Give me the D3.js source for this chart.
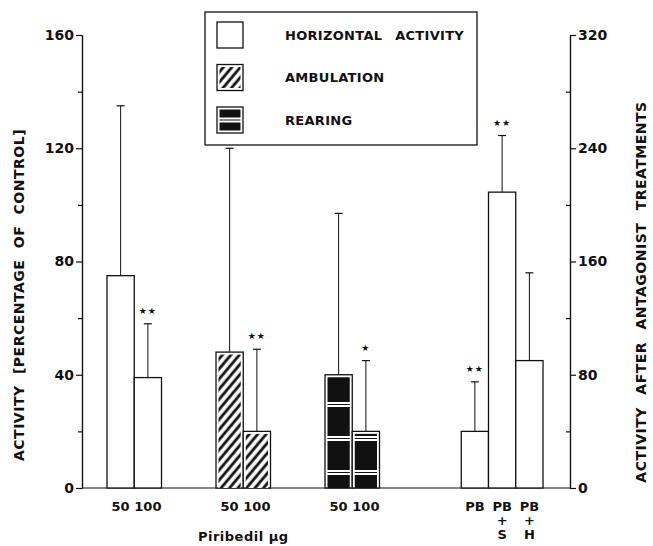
<!DOCTYPE html>
<html>
<head>
<meta charset="utf-8">
<script src="https://cdn.jsdelivr.net/npm/d3@7"></script>
<style>
  body { margin: 0; background: #fff; }
  svg { display: block; }
  text { font-family: "DejaVu Sans", sans-serif; font-weight: bold; fill: #111; }
  .axis path, .axis line { stroke: #111; stroke-width: 1.2; }
  .axis text { font-family: "DejaVu Sans", sans-serif; font-weight: bold; font-size: 14px; fill: #111; }
</style>
</head>
<body>
<div id="chart"></div>
<script>
// bars, left to right
var barLabels = ['50', '100', '50', '100', '50', '100', 'PB', 'PB+S', 'PB+H'];
var barGroups = ['g1', 'g1', 'g2', 'g2', 'g3', 'g3', 'g4', 'g4', 'g4'];
var barKinds  = ['horizontal', 'horizontal', 'ambulation', 'ambulation', 'rearing', 'rearing',
                 'horizontal', 'horizontal', 'horizontal'];
var barAxis   = ['left', 'left', 'left', 'left', 'left', 'left', 'right', 'right', 'right'];
var means     = [75, 39, 48, 20, 40, 20, 40, 209, 90];
var sems      = [60, 19, 72, 29, 57, 25, 35, 40, 62];
var stars     = ['', '**', '', '**', '', '*', '**', '**', ''];

var leftTicks  = [0, 40, 80, 120, 160];
var leftMinor  = [20, 60, 100, 140];
var rightTicks = [0, 80, 160, 240, 320];
var rightMinor = [40, 120, 200, 280];

var legendKinds  = ['horizontal', 'ambulation', 'rearing'];
var legendLabels = ['HORIZONTAL ACTIVITY', 'AMBULATION', 'REARING'];

var width = 653, height = 546;
var x0 = 82, x1 = 570, yTop = 35, yBase = 488;

var svg = d3.select('#chart').append('svg')
    .attr('width', width)
    .attr('height', height);

var defs = svg.append('defs');

// diagonal hatch for ambulation
var hatch = defs.append('pattern')
    .attr('id', 'hatch')
    .attr('patternUnits', 'userSpaceOnUse')
    .attr('width', 6.5).attr('height', 6.5)
    .attr('patternTransform', 'rotate(40)');
hatch.append('rect').attr('width', 6.5).attr('height', 6.5).attr('fill', '#fff');
hatch.append('line').attr('x1', 2).attr('x2', 2).attr('y1', 0).attr('y2', 6.5)
    .attr('stroke', '#111').attr('stroke-width', 2.8);

// black with white ladder stripes for rearing
function rearingPattern(id, offset) {
  var p = defs.append('pattern')
      .attr('id', id)
      .attr('patternUnits', 'userSpaceOnUse')
      .attr('width', 40).attr('height', 34)
      .attr('y', offset);
  p.append('rect').attr('width', 40).attr('height', 34).attr('fill', '#111');
  p.append('rect').attr('y', 0).attr('width', 40).attr('height', 5).attr('fill', '#fff');
  p.append('line').attr('x1', 0).attr('x2', 40).attr('y1', 2.5).attr('y2', 2.5)
      .attr('stroke', '#111').attr('stroke-width', 1.2);
}
rearingPattern('rearing', 402 - 34 * 11);
rearingPattern('rearingLegend', -2.5);

var fills = { horizontal: '#fff', ambulation: 'url(#hatch)', rearing: 'url(#rearing)' };

// slots: bars plus empty spacers between groups
var gaps = { g1: 0, g2: 2, g3: 2, g4: 3 };
var slots = [];
var prev = null;
barGroups.forEach(function(g, i) {
  if (g !== prev && prev !== null) {
    for (var k = 0; k < gaps[g]; k++) slots.push('gap-' + g + '-' + k);
  }
  slots.push('bar-' + i);
  prev = g;
});

var x = d3.scaleBand()
    .domain(slots)
    .range([107, 543])
    .paddingInner(0);

var yLeft = d3.scaleLinear().domain([0, 160]).range([yBase, yTop]);
var yRight = d3.scaleLinear().domain([0, 320]).range([yBase, yTop]);

var bars = barLabels.map(function(label, i) {
  return {
    label: label, kind: barKinds[i], mean: means[i], sem: sems[i], star: stars[i],
    y: barAxis[i] === 'left' ? yLeft : yRight, key: 'bar-' + i
  };
});

// axes
svg.append('g')
    .attr('class', 'axis')
    .attr('transform', 'translate(' + x0 + ',0)')
    .call(d3.axisLeft(yLeft).tickValues(leftTicks).tickSize(6).tickSizeOuter(0).tickPadding(2));
svg.append('g')
    .attr('class', 'axis')
    .attr('transform', 'translate(' + x0 + ',0)')
    .call(d3.axisLeft(yLeft).tickValues(leftMinor).tickSize(4).tickFormat('').tickSizeOuter(0));

svg.append('g')
    .attr('class', 'axis')
    .attr('transform', 'translate(' + x1 + ',0)')
    .call(d3.axisRight(yRight).tickValues(rightTicks).tickSize(6).tickSizeOuter(0).tickPadding(2));
svg.append('g')
    .attr('class', 'axis')
    .attr('transform', 'translate(' + x1 + ',0)')
    .call(d3.axisLeft(yRight).tickValues(rightMinor).tickSize(4).tickFormat('').tickSizeOuter(0));

svg.append('line')
    .attr('x1', x0).attr('x2', x1)
    .attr('y1', yBase).attr('y2', yBase)
    .attr('stroke', '#111').attr('stroke-width', 1.2);

// error bars (upper only)
var err = svg.append('g').attr('class', 'errors');
err.selectAll('line.stem')
    .data(bars).enter().append('line')
    .attr('class', 'stem')
    .attr('x1', function(d) { return x(d.key) + x.bandwidth() / 2; })
    .attr('x2', function(d) { return x(d.key) + x.bandwidth() / 2; })
    .attr('y1', function(d) { return d.y(d.mean); })
    .attr('y2', function(d) { return d.y(d.mean + d.sem); })
    .attr('stroke', '#111').attr('stroke-width', 1);
err.selectAll('line.cap')
    .data(bars).enter().append('line')
    .attr('class', 'cap')
    .attr('x1', function(d) { return x(d.key) + x.bandwidth() / 2 - 4; })
    .attr('x2', function(d) { return x(d.key) + x.bandwidth() / 2 + 4; })
    .attr('y1', function(d) { return d.y(d.mean + d.sem); })
    .attr('y2', function(d) { return d.y(d.mean + d.sem); })
    .attr('stroke', '#111').attr('stroke-width', 1.2);

// bars: outline, then inset fill
var g = svg.append('g').attr('class', 'bars');
g.selectAll('rect.outline')
    .data(bars).enter().append('rect')
    .attr('class', 'outline')
    .attr('x', function(d) { return x(d.key); })
    .attr('y', function(d) { return d.y(d.mean); })
    .attr('width', x.bandwidth())
    .attr('height', function(d) { return yBase - d.y(d.mean); })
    .attr('fill', '#fff')
    .attr('stroke', '#111').attr('stroke-width', 1.3);
g.selectAll('rect.inner')
    .data(bars.filter(function(d) { return d.kind !== 'horizontal'; }))
    .enter().append('rect')
    .attr('class', 'inner')
    .attr('x', function(d) { return x(d.key) + 2.5; })
    .attr('y', function(d) { return d.y(d.mean) + 2.5; })
    .attr('width', x.bandwidth() - 5)
    .attr('height', function(d) { return yBase - d.y(d.mean) - 2.5; })
    .attr('fill', function(d) { return fills[d.kind]; });

// significance stars
svg.selectAll('text.star')
    .data(bars.filter(function(d) { return d.star; }))
    .enter().append('text')
    .attr('class', 'star')
    .attr('x', function(d) { return x(d.key) + x.bandwidth() / 2; })
    .attr('y', function(d) { return d.y(d.mean + d.sem) - 10; })
    .attr('text-anchor', 'middle')
    .style('font-size', '9px')
    .style('letter-spacing', '1px')
    .text(function(d) { return d.star.replace(/\*/g, '\u2605'); });

// category labels under bars
var cat = svg.selectAll('text.cat')
    .data(bars).enter().append('text')
    .attr('class', 'cat')
    .attr('text-anchor', 'middle')
    .style('font-size', '13px')
    .attr('y', 511);
cat.selectAll('tspan')
    .data(function(d) {
      var parts = d.label.split('+');
      var lines = parts.length > 1 ? [parts[0], '+', parts[1]] : parts;
      var cx = x(d.key) + x.bandwidth() / 2;
      return lines.map(function(t) { return { t: t, cx: cx }; });
    })
    .enter().append('tspan')
    .attr('x', function(d) { return d.cx; })
    .attr('dy', function(d, i) { return i === 0 ? 0 : 14; })
    .text(function(d) { return d.t; });

svg.append('text')
    .attr('x', x('bar-2') + x.bandwidth())
    .attr('y', 541)
    .attr('text-anchor', 'middle')
    .style('font-size', '13px')
    .style('letter-spacing', '0.5px')
    .text('Piribedil \u00b5g');

// axis titles
svg.append('text')
    .attr('transform', 'translate(24,295) rotate(-90)')
    .attr('text-anchor', 'middle')
    .style('font-size', '14px')
    .style('letter-spacing', '0.5px')
    .style('word-spacing', '6px')
    .text('ACTIVITY [PERCENTAGE OF CONTROL]');
svg.append('text')
    .attr('transform', 'translate(646,292) rotate(-90)')
    .attr('text-anchor', 'middle')
    .style('font-size', '14px')
    .style('letter-spacing', '0.5px')
    .style('word-spacing', '7px')
    .text('ACTIVITY AFTER ANTAGONIST TREATMENTS');

// legend
var legend = svg.append('g').attr('class', 'legend');
legend.append('rect')
    .attr('x', 205).attr('y', 12)
    .attr('width', 272).attr('height', 133)
    .attr('fill', '#fff')
    .attr('stroke', '#111').attr('stroke-width', 1.3);

var legendFills = { horizontal: '#fff', ambulation: 'url(#hatch)', rearing: 'url(#rearingLegend)' };
var ly = d3.scalePoint().domain(legendKinds).range([35, 120]);

var item = legend.selectAll('g.item')
    .data(legendKinds).enter().append('g')
    .attr('class', 'item')
    .attr('transform', function(d) { return 'translate(0,' + ly(d) + ')'; });
item.append('rect')
    .attr('x', 217).attr('y', -13)
    .attr('width', 26).attr('height', 26)
    .attr('fill', '#fff')
    .attr('stroke', '#111').attr('stroke-width', 1.3);
item.filter(function(d) { return d !== 'horizontal'; })
    .append('rect')
    .attr('x', 219.5).attr('y', -10.5)
    .attr('width', 21).attr('height', 21)
    .attr('fill', function(d) { return legendFills[d]; });
item.append('text')
    .attr('x', 285).attr('y', 4.5)
    .style('font-size', '13px')
    .style('letter-spacing', '0.3px')
    .style('word-spacing', '8px')
    .text(function(d, i) { return legendLabels[i]; });
</script>
</body>
</html>
